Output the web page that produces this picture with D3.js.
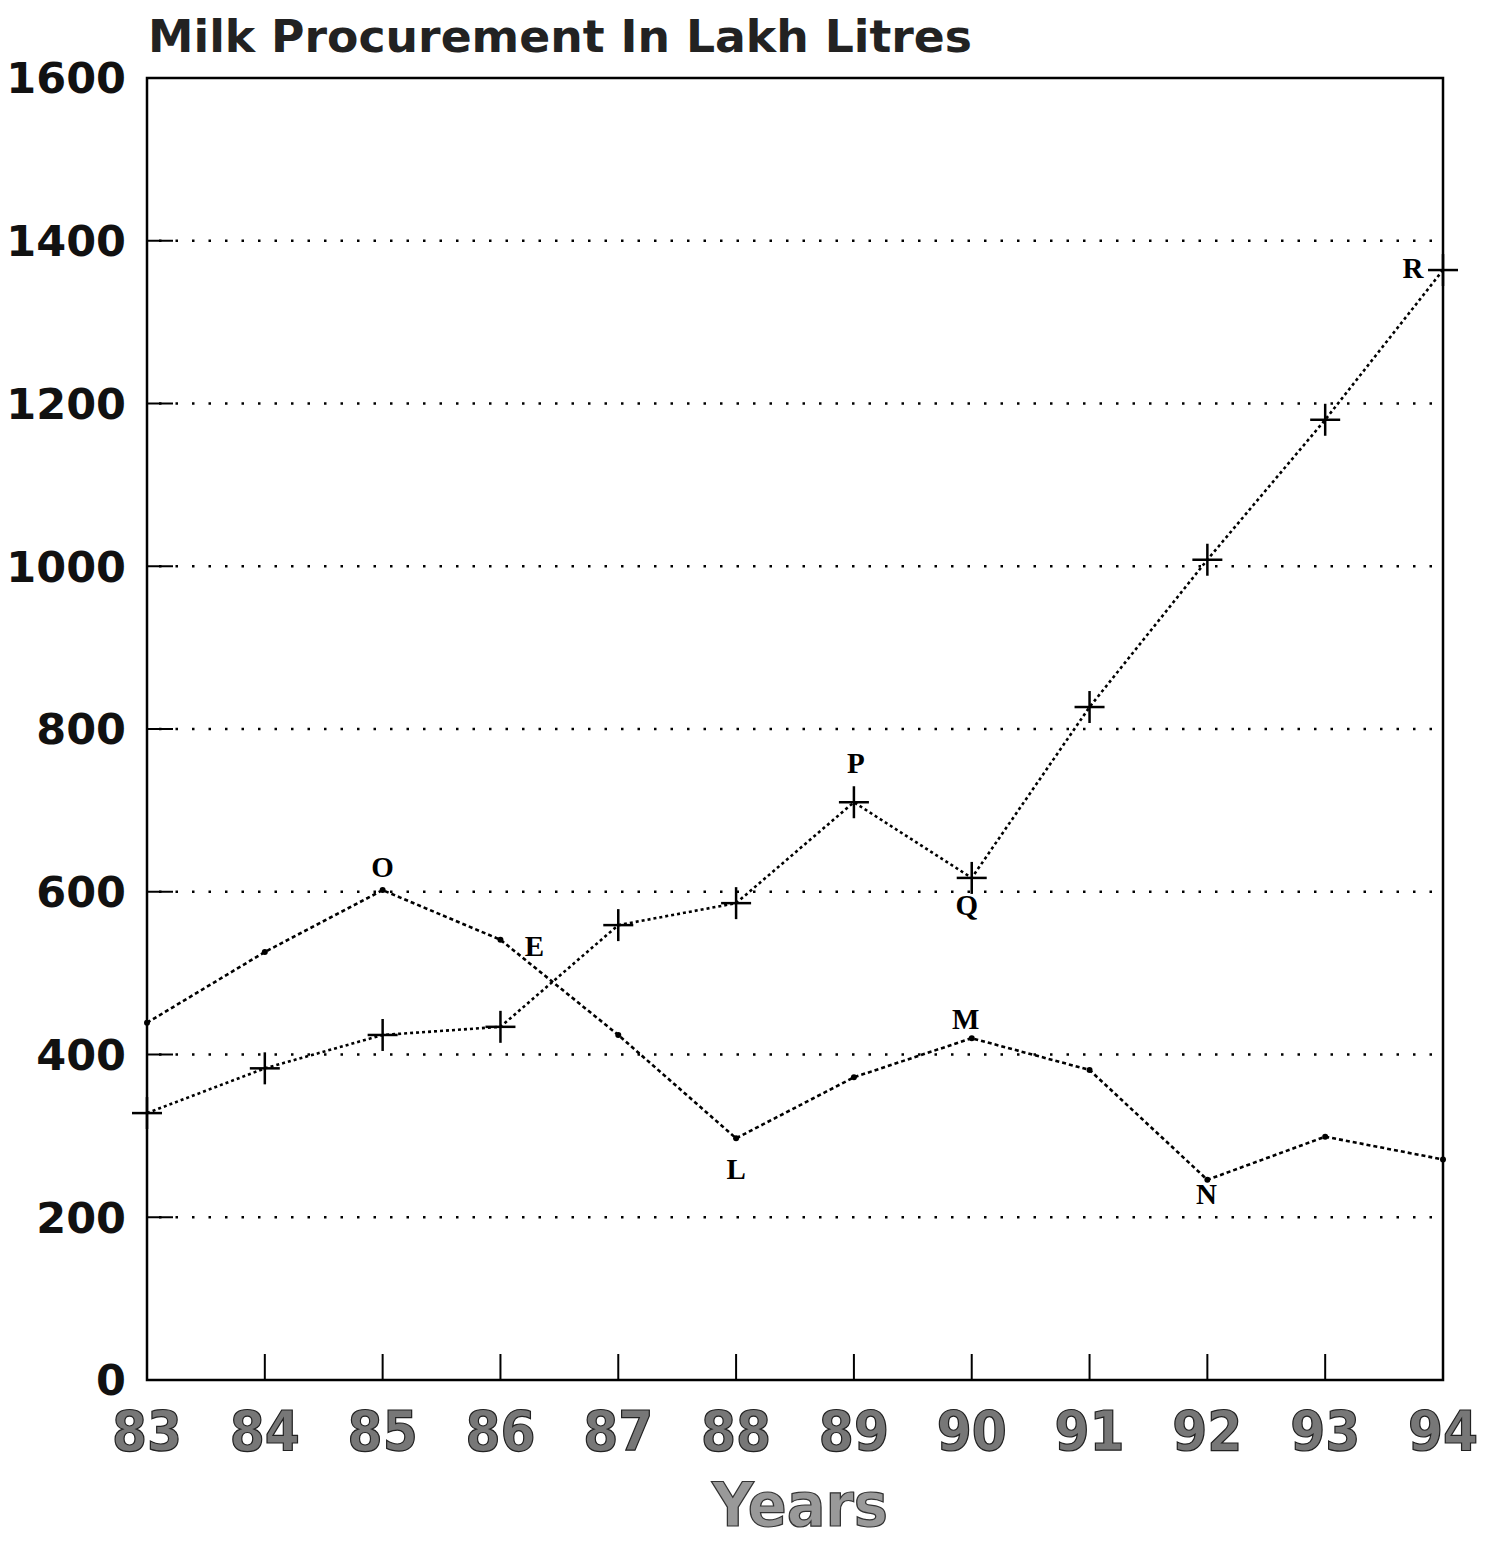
<!DOCTYPE html>
<html>
<head>
<meta charset="utf-8">
<script src="https://cdn.jsdelivr.net/npm/d3@7"></script>
<style>
  body { margin: 0; background: #fff; }
  svg { display: block; }
</style>
</head>
<body>
<div id="chart"></div>
<script>
// years on x axis
const years = [83, 84, 85, 86, 87, 88, 89, 90, 91, 92, 93, 94]
// crossed line (rising one)
const seriesCross = [328, 383, 424, 434, 559, 586, 710, 617, 827, 1008, 1180, 1364]
// dotted line (the one with the peak at 85)
const seriesDot = [439, 526, 602, 541, 424, 297, 372, 420, 381, 246, 299, 271]
const yTicks = [0, 200, 400, 600, 800, 1000, 1200, 1400, 1600]
// point letters: series, year, text
const pointLabels = [
  {s: 'dot', year: 85, text: 'O', dx: 0, dy: -24},
  {s: 'dot', year: 86, text: 'E', dx: 34, dy: 6},
  {s: 'dot', year: 88, text: 'L', dx: 0, dy: 30},
  {s: 'dot', year: 90, text: 'M', dx: -6, dy: -20},
  {s: 'dot', year: 92, text: 'N', dx: -1, dy: 14},
  {s: 'cross', year: 89, text: 'P', dx: 2, dy: -40},
  {s: 'cross', year: 90, text: 'Q', dx: -5, dy: 27},
  {s: 'cross', year: 94, text: 'R', dx: -30, dy: -2}
]

const width = 1492, height = 1544
const margin = {left: 147, right: 49, top: 78, bottom: 164}

const svg = d3.select('#chart').append('svg')
  .attr('width', width).attr('height', height)

const x = d3.scaleLinear().domain([83, 94]).range([margin.left, width - margin.right])
const y = d3.scaleLinear().domain([0, 1600]).range([height - margin.bottom, margin.top])

// title
svg.append('text')
  .attr('x', 148).attr('y', 52)
  .attr('font-family', 'DejaVu Sans').attr('font-weight', 'bold')
  .attr('font-size', 44).attr('fill', '#222')
  .attr('textLength', 824).attr('lengthAdjust', 'spacingAndGlyphs')
  .text('Milk Procurement In Lakh Litres')

// dotted grid lines
svg.append('g').selectAll('line')
  .data(yTicks.filter(d => d > 0 && d < 1600))
  .enter().append('line')
  .attr('x1', x(83) + 12).attr('x2', x(94) - 4)
  .attr('y1', d => y(d)).attr('y2', d => y(d))
  .attr('stroke', '#000').attr('stroke-width', 2.5)
  .attr('stroke-dasharray', '2.5,14')

// short dash on y axis at each grid line
svg.append('g').selectAll('line')
  .data(yTicks.filter(d => d > 0 && d < 1600))
  .enter().append('line')
  .attr('x1', x(83)).attr('x2', x(83) + 26)
  .attr('y1', d => y(d)).attr('y2', d => y(d))
  .attr('stroke', '#000').attr('stroke-width', 2)

// frame
svg.append('rect')
  .attr('x', x(83)).attr('y', y(1600))
  .attr('width', x(94) - x(83)).attr('height', y(0) - y(1600))
  .attr('fill', 'none').attr('stroke', '#000').attr('stroke-width', 2.5)

// x ticks going up from the bottom
svg.append('g').selectAll('line')
  .data(years.slice(1, -1))
  .enter().append('line')
  .attr('x1', d => x(d)).attr('x2', d => x(d))
  .attr('y1', y(0)).attr('y2', y(0) - 26)
  .attr('stroke', '#000').attr('stroke-width', 2)

// y labels
svg.append('g').selectAll('text')
  .data(yTicks)
  .enter().append('text')
  .attr('x', 126).attr('y', d => y(d))
  .attr('dy', '0.36em')
  .attr('text-anchor', 'end')
  .attr('font-family', 'DejaVu Sans').attr('font-weight', 'bold')
  .attr('font-size', 43).attr('fill', '#111')
  .text(d => d)

// x labels
svg.append('g').selectAll('text')
  .data(years)
  .enter().append('text')
  .attr('x', d => x(d)).attr('y', y(0) + 50)
  .attr('dy', '0.36em')
  .attr('text-anchor', 'middle')
  .attr('font-family', 'DejaVu Sans Condensed').attr('font-weight', 'bold')
  .attr('font-size', 56).attr('fill', '#777')
  .attr('stroke', '#222').attr('stroke-width', 1.2)
  .text(d => d)

// axis title
svg.append('text')
  .attr('x', 800).attr('y', 1526)
  .attr('text-anchor', 'middle')
  .attr('font-family', 'DejaVu Sans Condensed').attr('font-weight', 'bold')
  .attr('font-size', 60).attr('fill', '#999')
  .attr('stroke', '#333').attr('stroke-width', 1.2)
  .attr('textLength', 176).attr('lengthAdjust', 'spacingAndGlyphs')
  .text('Years')

const line = d3.line().x(d => x(d[0])).y(d => y(d[1]))
const crossPts = years.map((yr, i) => [yr, seriesCross[i]])
const dotPts = years.map((yr, i) => [yr, seriesDot[i]])

// lines
svg.append('path').datum(dotPts)
  .attr('d', line).attr('fill', 'none')
  .attr('stroke', '#000').attr('stroke-width', 2.6)
  .attr('stroke-dasharray', '4,3')
svg.append('path').datum(crossPts)
  .attr('d', line).attr('fill', 'none')
  .attr('stroke', '#000').attr('stroke-width', 2.6)
  .attr('stroke-dasharray', '3,3')

// cross markers
let crosses = svg.append('g').selectAll('g').data(crossPts)
  .enter().append('g')
  .attr('transform', d => 'translate(' + x(d[0]) + ',' + y(d[1]) + ')')
crosses.append('line').attr('x1', 0).attr('x2', 0).attr('y1', -16).attr('y2', 16)
  .attr('stroke', '#000').attr('stroke-width', 2.5)
crosses.append('line').attr('x1', -15).attr('x2', 15).attr('y1', 0).attr('y2', 0)
  .attr('stroke', '#000').attr('stroke-width', 2.5)

// dot markers
svg.append('g').selectAll('circle').data(dotPts)
  .enter().append('circle')
  .attr('cx', d => x(d[0])).attr('cy', d => y(d[1]))
  .attr('r', 3).attr('fill', '#000')

// letters at points
svg.append('g').selectAll('text').data(pointLabels)
  .enter().append('text')
  .attr('x', d => x(d.year) + d.dx)
  .attr('y', d => y((d.s === 'dot' ? seriesDot : seriesCross)[years.indexOf(d.year)]) + d.dy)
  .attr('dy', '0.36em')
  .attr('text-anchor', 'middle')
  .attr('font-family', 'Liberation Serif').attr('font-weight', 'bold')
  .attr('font-size', 29).attr('fill', '#000')
  .text(d => d.text)
</script>
</body>
</html>
